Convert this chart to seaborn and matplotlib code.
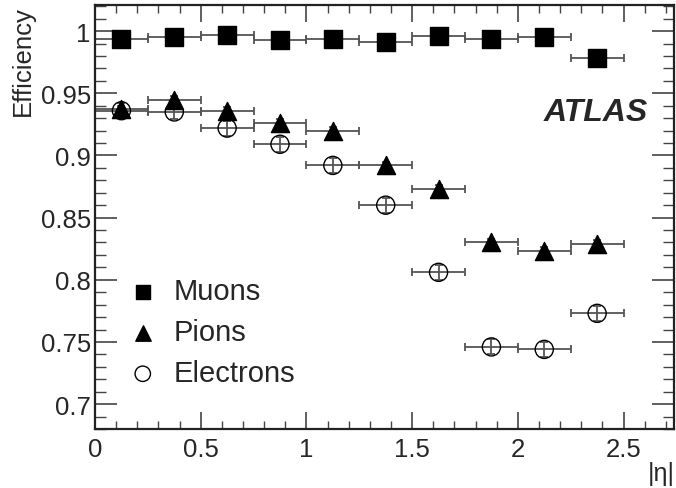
import seaborn as sns
import matplotlib.pyplot as plt
import matplotlib.ticker as mticker
import numpy as np
import pandas as pd

# bin centres in |eta| and half widths
eta = [0.125, 0.375, 0.625, 0.875, 1.125, 1.375, 1.625, 1.875, 2.125, 2.375]
eta_err = [0.125] * 10

muons = [0.994, 0.995, 0.997, 0.993, 0.994, 0.991, 0.996, 0.994, 0.995, 0.978]
muons_err = [0.001] * 10
pions = [0.937, 0.945, 0.936, 0.926, 0.920, 0.892, 0.873, 0.830, 0.823, 0.829]
pions_err = [0.003] * 10
electrons = [0.936, 0.935, 0.922, 0.909, 0.892, 0.860, 0.806, 0.746, 0.744, 0.773]
electrons_err = [0.006] * 10

sns.set_style("ticks")
plt.rcParams['font.family'] = ['Liberation Sans', 'DejaVu Sans']

fig = plt.figure(figsize=(6.76, 4.89), dpi=100)
ax = fig.add_axes([0.1405, 0.1207, 0.857, 0.867])

series = [("Muons", muons, muons_err, "s", "black", 150),
          ("Pions", pions, pions_err, "^", "black", 170),
          ("Electrons", electrons, electrons_err, "o", "none", 170)]

for name, vals, errs, mk, fc, sz in series:
    ax.errorbar(eta, vals, xerr=eta_err, yerr=errs, fmt="none",
                ecolor="#555555", elinewidth=1.3, capsize=3, capthick=1.3, zorder=2)
    df = pd.DataFrame({"eta": eta, "eff": vals})
    sns.scatterplot(data=df, x="eta", y="eff", marker=mk, s=sz,
                    facecolor=fc, edgecolor="black", linewidth=1.0,
                    ax=ax, label=name, zorder=3)

ax.set_xlim(0, 2.74)
ax.set_ylim(0.68, 1.021)
ax.xaxis.set_major_locator(mticker.MultipleLocator(0.5))
ax.xaxis.set_minor_locator(mticker.MultipleLocator(0.1))
ax.yaxis.set_major_locator(mticker.MultipleLocator(0.05))
ax.yaxis.set_minor_locator(mticker.MultipleLocator(0.01))
ax.xaxis.set_major_formatter(mticker.FuncFormatter(lambda v, p: f"{v:g}"))
ax.yaxis.set_major_formatter(mticker.FuncFormatter(lambda v, p: f"{v:g}"))

ax.tick_params(axis="both", which="both", direction="in", top=True, right=True,
               labelsize=18.5, color="#444444")
ax.tick_params(axis="y", which="major", length=16, width=1.2, pad=3)
ax.tick_params(axis="y", which="minor", length=8, width=1.0)
ax.tick_params(axis="x", which="major", length=12, width=1.2, pad=6)
ax.tick_params(axis="x", which="minor", length=6, width=1.0)
for sp in ax.spines.values():
    sp.set_linewidth(1.6)
    sp.set_color("#222222")

ax.set_xlabel("|η|", fontsize=18, loc="right", labelpad=0)
ax.set_ylabel("Efficiency", fontsize=18.5, loc="top", labelpad=4)

ax.text(0.775, 0.748, "ATLAS", transform=ax.transAxes, fontsize=23,
        fontweight="bold", fontstyle="italic", va="center", ha="left")

ax.legend(loc="upper left", bbox_to_anchor=(0.012, 0.42), frameon=False,
          fontsize=21, handlelength=1.0, handletextpad=0.55, labelspacing=0.45,
          markerscale=0.85)

fig.savefig("out.png", dpi=100)
